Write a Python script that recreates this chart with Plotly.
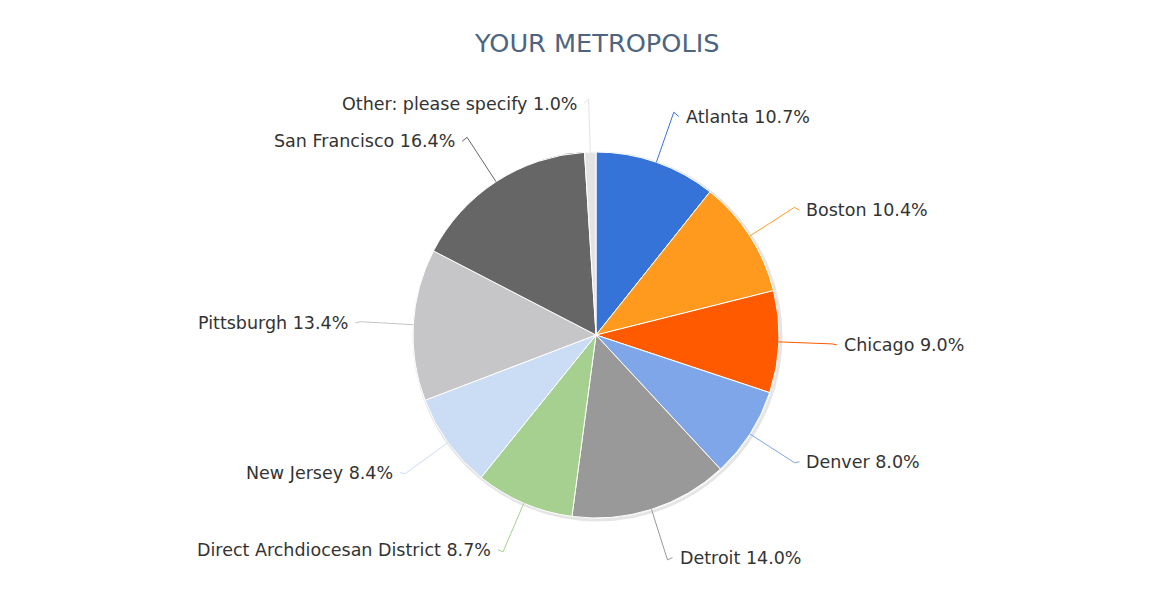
import math
import plotly.graph_objects as go

# ---- data ----
categories = ["Atlanta", "Boston", "Chicago", "Denver", "Detroit",
              "Direct Archdiocesan District", "New Jersey", "Pittsburgh",
              "San Francisco", "Other: please specify"]
percents = [10.7, 10.4, 9.0, 8.0, 14.0, 8.7, 8.4, 13.4, 16.4, 1.0]
colors = ["#3673d8", "#ff9a1f", "#ff5a00", "#7fa6e8", "#999999",
          "#a6d08f", "#cbdcf5", "#c6c6c8", "#666666", "#e3e3e3"]
title_text = "YOUR METROPOLIS"

# ---- layout geometry (pixels, page coordinates) ----
W, H = 1171, 598
OFF = 8  # default page body margin
cx, cy, r = 596, 335, 183
r_lab = 236
font_fam = "DejaVu Sans"

fig = go.Figure()

fig.add_trace(go.Pie(
    labels=categories, values=percents, sort=False, direction="clockwise",
    rotation=0, textinfo="none", hoverinfo="label+percent",
    marker=dict(colors=colors, line=dict(color="#ffffff", width=1)),
    domain=dict(x=[(cx - OFF - r) / W, (cx - OFF + r) / W],
                y=[(H - (cy - OFF) - r) / H, (H - (cy - OFF) + r) / H]),
    showlegend=False,
))

shapes = []
annotations = []
# subtle shadow behind the pie
shapes.append(dict(type="circle", xref="x", yref="y", layer="below",
                   x0=cx - r + 1, x1=cx + r + 2, y0=cy - r + 1, y1=cy + r + 2,
                   line=dict(color="rgba(0,0,0,0.10)", width=3)))

total = sum(percents)
cum = 0.0
for name, v, col in zip(categories, percents, colors):
    mid = (cum + v / 2) / total * 2 * math.pi
    cum += v
    s, c = math.sin(mid), math.cos(mid)
    ex, ey = cx + r * s, cy - r * c
    bx, by = cx + r_lab * s, cy - r_lab * c
    side = 1 if s >= 0 else -1
    ly = by + 1 + 3.5 * c
    ax = bx + side * 5
    shapes.append(dict(type="path", xref="x", yref="y", layer="above",
                       path=f"M {ex:.1f} {ey:.1f} L {bx:.1f} {by:.1f} L {ax:.1f} {ly:.1f}",
                       line=dict(color=col, width=1)))
    annotations.append(dict(x=ax + side * 5, y=ly, xref="x", yref="y",
                            text=f"{name} {v:.1f}%", showarrow=False,
                            xanchor="left" if side > 0 else "right",
                            yanchor="middle",
                            font=dict(family=font_fam, size=17.5, color="#333333")))

annotations.append(dict(x=cx, y=43, xref="x", yref="y", text=title_text,
                        showarrow=False, xanchor="center", yanchor="middle",
                        font=dict(family=font_fam, size=25.6, color="#4d6580")))

fig.update_layout(
    width=W, height=H,
    margin=dict(l=0, r=0, t=0, b=0),
    paper_bgcolor="#ffffff", plot_bgcolor="rgba(0,0,0,0)",
    xaxis=dict(range=[OFF, W + OFF], visible=False, fixedrange=True),
    yaxis=dict(range=[H + OFF, OFF], visible=False, fixedrange=True),
    shapes=shapes, annotations=annotations,
)

fig.write_html("out.html")
